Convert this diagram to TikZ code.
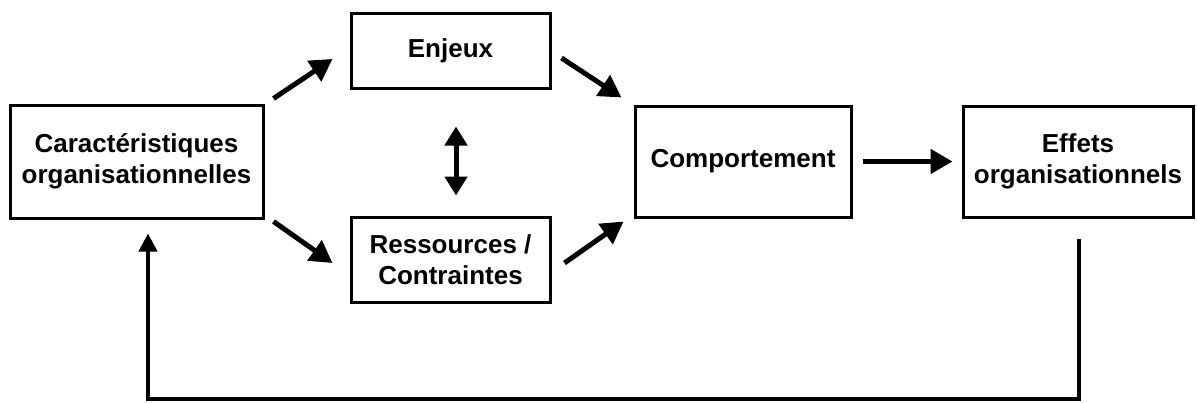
\documentclass[tikz,border=0pt]{standalone}
\usepackage{fontspec}
\setmainfont{Liberation Sans}
\usetikzlibrary{arrows.meta}
\begin{document}
\begin{tikzpicture}[x=1pt,y=-1pt,
  box/.style={draw=black,line width=3pt,inner sep=0pt,align=center,
    font=\fontsize{26}{31}\selectfont\bfseries},
  conn/.style={line width=5pt,-{Triangle[length=22pt,width=24pt]}},
  dconn/.style={line width=5pt,{Triangle[length=19pt,width=22pt]}-{Triangle[length=19pt,width=22pt]}},
  fb/.style={line width=4pt,-{Triangle[length=18pt,width=18pt]}}]
\useasboundingbox (0,0) rectangle (1197,402);
\node[box,minimum width=253pt,minimum height=113pt] (car) at (136.5,161.5) {Caractéristiques\\organisationnelles};
\node[box,minimum width=199pt,minimum height=75pt] (enj) at (450.5,50.5) {Enjeux};
\node[box,minimum width=199pt,minimum height=85pt] (res) at (450.5,259.5) {Ressources /\\Contraintes};
\node[box,minimum width=216pt,minimum height=111pt] (com) at (743,161.5) {Comportement};
\node[box,minimum width=230pt,minimum height=111pt] (eff) at (1078,161.5) {Effets\\organisationnels};
\coordinate (a1s) at ([shift={(9,-5)}]car.north east);
\coordinate (a1e) at ([shift={(-17,8.5)}]enj.west);
\coordinate (a2s) at ([shift={(10,7.5)}]enj.east);
\coordinate (a2e) at ([shift={(-12,-7)}]com.north west);
\coordinate (a3s) at ([shift={(9,2)}]car.south east);
\coordinate (a3e) at ([shift={(-17,3.5)}]res.west);
\coordinate (a4s) at ([shift={(13,3.5)}]res.east);
\coordinate (a4e) at ([shift={(-10,3)}]com.south west);
\coordinate (ds) at ([shift={(5.5,37)}]enj.south);
\coordinate (de) at ([shift={(5.5,-20)}]res.north);
\coordinate (a5s) at ([shift={(10,0)}]com.east);
\coordinate (a5e) at ([shift={(-9,0)}]eff.west);
\coordinate (fbs) at ([shift={(1,20)}]eff.south);
\coordinate (fbe) at ([shift={(11.5,14)}]car.south);
\coordinate (fbb) at (0,399);
\draw[conn] (a1s) -- (a1e);
\draw[conn] (a2s) -- (a2e);
\draw[conn] (a3s) -- (a3e);
\draw[conn] (a4s) -- (a4e);
\draw[dconn] (ds) -- (de);
\draw[conn] (a5s) -- (a5e);
\draw[fb] (fbs) -- (fbs |- fbb) -| (fbe);
\end{tikzpicture}
\end{document}
